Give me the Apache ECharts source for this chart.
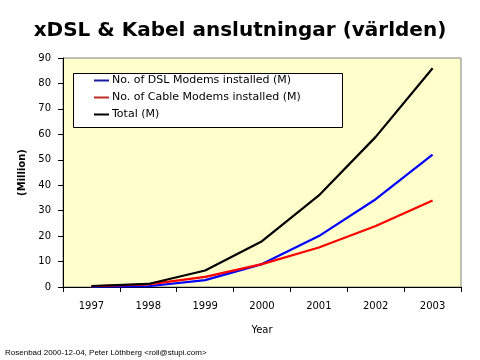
<!DOCTYPE html>
<html>
<head>
<meta charset="utf-8">
<script src="https://cdn.jsdelivr.net/npm/echarts@6/dist/echarts.min.js"></script>
<style>html,body{margin:0;padding:0;background:#fff}#c{width:480px;height:360px}</style>
</head>
<body>
<div id="c"></div>
<script>
const titleText = 'xDSL & Kabel anslutningar (världen)';
const years = ['1997', '1998', '1999', '2000', '2001', '2002', '2003'];
const dslModems = [0.1, 0.3, 2.7, 9, 20, 34.5, 52];
const cableModems = [0.3, 1.0, 4.0, 9, 15.5, 24, 34];
const totalModems = [0.4, 1.2, 6.5, 18, 36, 59, 86];
const seriesNames = ['No. of DSL Modems installed (M)', 'No. of Cable Modems installed (M)', 'Total (M)'];
const yTicks = { min: 0, max: 90, interval: 10 };
const footer = 'Rosenbad 2000-12-04, Peter Löthberg <roll@stupi.com>';

const FONT = 'DejaVu Sans';
const chart = echarts.init(document.getElementById('c'), null, { renderer: 'canvas' });
const mkLine = (name, data, color) => ({
  name, type: 'line', data, symbol: 'none', smooth: false,
  lineStyle: { color, width: 2.2 }, itemStyle: { color }, z: 3
});
chart.setOption({
  animation: false,
  backgroundColor: '#ffffff',
  title: {
    text: titleText, left: 'center', top: 16,
    textStyle: { fontFamily: 'DejaVu Sans', fontWeight: 'bold', fontSize: 20, color: '#000' }
  },
  grid: {
    left: 63, right: 19, top: 58, bottom: 73, show: true,
    backgroundColor: '#ffffcc', borderColor: '#808080', borderWidth: 1
  },
  xAxis: {
    type: 'category', data: years, boundaryGap: true,
    name: 'Year', nameLocation: 'middle', nameGap: 38,
    nameTextStyle: { fontFamily: FONT, fontSize: 10, color: '#000' },
    axisLine: { lineStyle: { color: '#000', width: 1 } },
    axisTick: { show: true, length: 5, lineStyle: { color: '#000' } },
    axisLabel: { fontFamily: FONT, fontSize: 10, color: '#000', margin: 14 },
    splitLine: { show: false }
  },
  yAxis: {
    type: 'value', min: yTicks.min, max: yTicks.max, interval: yTicks.interval,
    name: '(Million)', nameLocation: 'middle', nameGap: 34, nameRotate: 90,
    nameTextStyle: { fontFamily: FONT, fontSize: 10, fontWeight: 'bold', color: '#000' },
    axisLine: { show: true, lineStyle: { color: '#000', width: 1 } },
    axisTick: { show: true, length: 5, lineStyle: { color: '#000' } },
    axisLabel: { fontFamily: FONT, fontSize: 10, color: '#000', margin: 12 },
    splitLine: { show: false }
  },
  legend: {
    orient: 'vertical', left: 94, top: 75, z: 10,
    itemWidth: 15, itemHeight: 2, icon: 'rect', itemGap: 6,
    padding: 0,
    data: [
      { name: seriesNames[0], itemStyle: { color: '#1a1aa0' } },
      { name: seriesNames[1], itemStyle: { color: '#c02828' } },
      { name: seriesNames[2], itemStyle: { color: '#000' } }
    ],
    textStyle: { fontFamily: FONT, fontSize: 11, color: '#000', padding: [0, 0, 0, -2] }
  },
  graphic: [
    {
      type: 'rect', z: 5, left: 73, top: 73,
      shape: { width: 269, height: 54 },
      style: { fill: '#ffffff', stroke: '#000', lineWidth: 1 }
    },
    {
      type: 'text', left: 5, top: 349, z: 5,
      style: { text: footer, fontFamily: 'Liberation Sans Narrow, Liberation Sans', fontSize: 8, fill: '#000' }
    }
  ],
  series: [
    mkLine(seriesNames[0], dslModems, '#0000ff'),
    mkLine(seriesNames[1], cableModems, '#ff0000'),
    mkLine(seriesNames[2], totalModems, '#000000')
  ]
});
</script>
</body>
</html>
